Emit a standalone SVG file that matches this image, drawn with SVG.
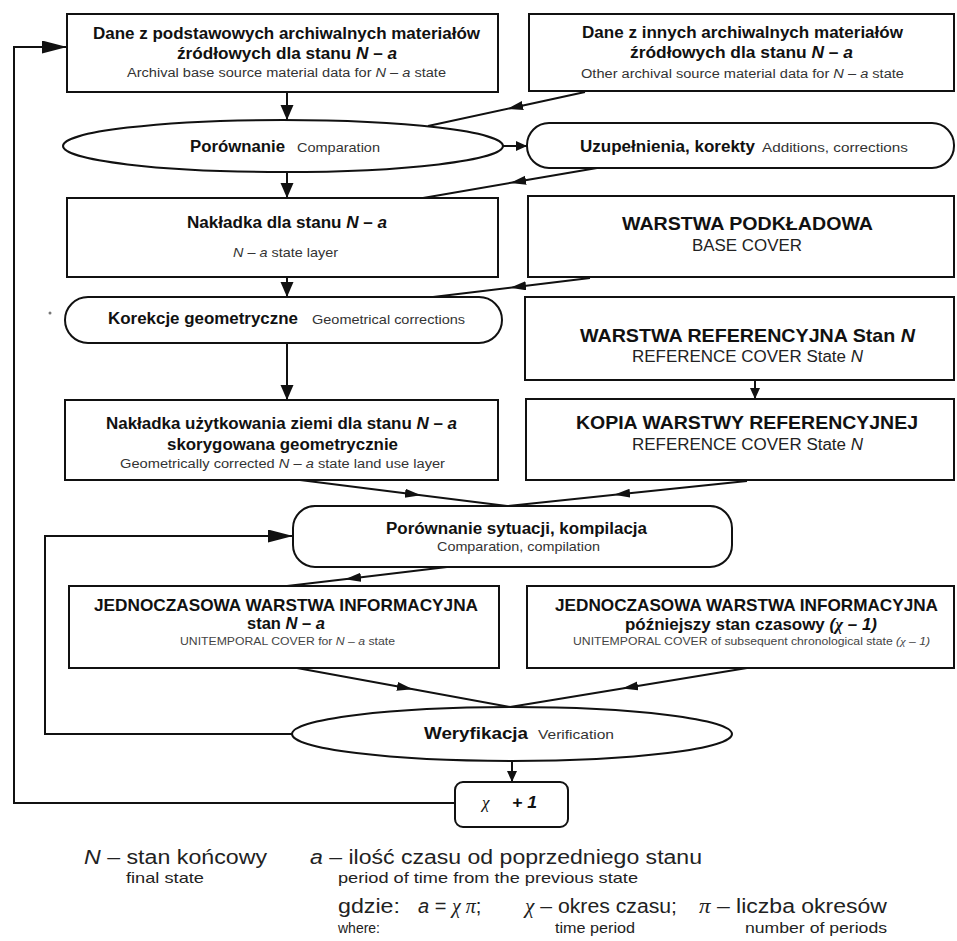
<svg xmlns="http://www.w3.org/2000/svg" width="957" height="941" viewBox="0 0 957 941">
<style>
.box{fill:#fff;stroke:#111;stroke-width:2}
.ln{fill:none;stroke:#111;stroke-width:2}
text{font-family:"Liberation Sans",Arial,sans-serif;fill:#111}
.b16{font-weight:bold;font-size:16px}
.b17{font-weight:bold;font-size:17px}
.c19{font-weight:bold;font-size:19px}
.r16{font-size:16px;fill:#222}
.s13{font-size:13px;fill:#333}
.s12{font-size:12px;fill:#333}
.s10{font-size:10px;fill:#444}
.lg{font-size:20px;fill:#222}
.lgs{font-size:15px;fill:#222}
.i{font-style:italic}
.sym{font-family:"Liberation Serif","DejaVu Serif",serif;font-style:italic}
</style>
<defs>
<marker id="ah" markerUnits="userSpaceOnUse" markerWidth="16" markerHeight="14" refX="15" refY="6.5" orient="auto"><path d="M0,0 L15,6.5 L0,13 z" fill="#111"/></marker>
<marker id="ahs" markerUnits="userSpaceOnUse" markerWidth="12" markerHeight="11" refX="11" refY="5" orient="auto"><path d="M0,0 L11,5 L0,10 z" fill="#111"/></marker>
<marker id="ahl" markerUnits="userSpaceOnUse" markerWidth="26" markerHeight="14" refX="25" refY="6.5" orient="auto"><path d="M0,0 L25,6.5 L0,13 z" fill="#111"/></marker>
<marker id="ahm" markerUnits="userSpaceOnUse" markerWidth="17" markerHeight="10" refX="8" refY="4.5" orient="auto"><path d="M0,0 L16,4.5 L0,9 z" fill="#111"/></marker>
</defs>
<rect width="957" height="941" fill="#fff"/>

<g id="connectors">
<path class="ln" d="M287,92 V120" marker-end="url(#ah)"/>
<path class="ln" d="M585,92 L515,107.2 L428,126" marker-mid="url(#ahm)"/>
<path class="ln" d="M503,146 H527" marker-end="url(#ahs)"/>
<path class="ln" d="M287,172 V198" marker-end="url(#ah)"/>
<path class="ln" d="M597,168 L518,181.6 L423,198" marker-mid="url(#ahm)"/>
<path class="ln" d="M287,277 V297" marker-end="url(#ah)"/>
<path class="ln" d="M590,278 L518,286.7 L433,297" marker-mid="url(#ahm)"/>
<path class="ln" d="M287,343 V400" marker-end="url(#ah)"/>
<path class="ln" d="M755,380 V399" marker-end="url(#ahs)"/>
<path class="ln" d="M300,480 L413,494.2 L507,506" marker-mid="url(#ahm)"/>
<path class="ln" d="M747,481 L622,494 L507,506" marker-mid="url(#ahm)"/>
<path class="ln" d="M447,567 L353,578.2 L287,586" marker-mid="url(#ahm)"/>
<path class="ln" d="M292,734 H45 V536 H293" marker-end="url(#ahl)"/>
<path class="ln" d="M297,668 L405,687.8 L510,707" marker-mid="url(#ahm)"/>
<path class="ln" d="M747,668 L630,687.3 L510,707" marker-mid="url(#ahm)"/>
<path class="ln" d="M512,761 V782" marker-end="url(#ahs)"/>
<path class="ln" d="M455,803 H14 V47 H67" marker-end="url(#ahl)"/>
</g>

<g id="n1">
<rect class="box" x="67" y="14" width="431" height="78"/>
<text class="b16" x="93" y="39" textLength="387" lengthAdjust="spacingAndGlyphs">Dane z podstawowych archiwalnych materiałów</text>
<text class="b16" x="177" y="59" textLength="220" lengthAdjust="spacingAndGlyphs">źródłowych dla stanu <tspan class="i">N</tspan> – <tspan class="i">a</tspan></text>
<text class="s12" x="127" y="77" textLength="319" lengthAdjust="spacingAndGlyphs">Archival base source material data for <tspan class="i">N</tspan> – <tspan class="i">a</tspan> state</text>
</g>

<g id="n2">
<rect class="box" x="529" y="14" width="425" height="77"/>
<text class="b16" x="582" y="38" textLength="321" lengthAdjust="spacingAndGlyphs">Dane z innych archiwalnych materiałów</text>
<text class="b16" x="630" y="58" textLength="223" lengthAdjust="spacingAndGlyphs">źródłowych dla stanu  <tspan class="i">N</tspan> – <tspan class="i">a</tspan></text>
<text class="s12" x="581" y="78" textLength="323" lengthAdjust="spacingAndGlyphs">Other archival source material data for <tspan class="i">N</tspan> – <tspan class="i">a</tspan> state</text>
</g>

<g id="n3">
<ellipse class="box" cx="283" cy="146" rx="220" ry="26"/>
<text class="b16" x="190" y="152" textLength="95" lengthAdjust="spacingAndGlyphs">Porównanie</text>
<text class="s13" x="297" y="152" textLength="83" lengthAdjust="spacingAndGlyphs">Comparation</text>
</g>

<g id="n4">
<rect class="box" x="527" y="123" width="427" height="45" rx="22"/>
<text class="b16" x="580" y="152" textLength="175" lengthAdjust="spacingAndGlyphs">Uzupełnienia, korekty</text>
<text class="s12" x="762" y="152" textLength="146" lengthAdjust="spacingAndGlyphs">Additions, corrections</text>
</g>

<g id="n5">
<rect class="box" x="67" y="198" width="431" height="79"/>
<text class="b16" x="187" y="228" textLength="200" lengthAdjust="spacingAndGlyphs">Nakładka dla stanu <tspan class="i">N</tspan> – <tspan class="i">a</tspan></text>
<text class="s13" x="233" y="257" textLength="105" lengthAdjust="spacingAndGlyphs"><tspan class="i">N</tspan> – <tspan class="i">a</tspan> state layer</text>
</g>

<g id="n6">
<rect class="box" x="528" y="196" width="426" height="81"/>
<text class="c19" x="622" y="230" textLength="251" lengthAdjust="spacingAndGlyphs">WARSTWA PODKŁADOWA</text>
<text class="r16" x="692" y="251" textLength="110" lengthAdjust="spacingAndGlyphs">BASE COVER</text>
</g>

<g id="n7">
<rect class="box" x="65" y="297" width="437" height="46" rx="23"/>
<text class="b16" x="108" y="324" textLength="190" lengthAdjust="spacingAndGlyphs">Korekcje geometryczne</text>
<text class="s13" x="312" y="324" textLength="153" lengthAdjust="spacingAndGlyphs">Geometrical corrections</text>
</g>
<circle cx="50" cy="313" r="1.5" fill="#777"/>

<g id="n8">
<rect class="box" x="525" y="297" width="429" height="83"/>
<text class="c19" x="580" y="342" textLength="335" lengthAdjust="spacingAndGlyphs">WARSTWA REFERENCYJNA Stan <tspan class="i">N</tspan></text>
<text class="r16" x="632" y="362" textLength="231" lengthAdjust="spacingAndGlyphs">REFERENCE COVER State <tspan class="i">N</tspan></text>
</g>

<g id="n9">
<rect class="box" x="65" y="400" width="433" height="80"/>
<text class="b16" x="106" y="429" textLength="351" lengthAdjust="spacingAndGlyphs">Nakładka użytkowania ziemi dla stanu <tspan class="i">N</tspan> – <tspan class="i">a</tspan></text>
<text class="b16" x="167" y="450" textLength="231" lengthAdjust="spacingAndGlyphs">skorygowana geometrycznie</text>
<text class="s12" x="120" y="468" textLength="325" lengthAdjust="spacingAndGlyphs">Geometrically corrected <tspan class="i">N</tspan> – <tspan class="i">a</tspan> state land use layer</text>
</g>

<g id="n10">
<rect class="box" x="526" y="399" width="428" height="81"/>
<text class="c19" x="576" y="429" textLength="342" lengthAdjust="spacingAndGlyphs">KOPIA WARSTWY REFERENCYJNEJ</text>
<text class="r16" x="632" y="450" textLength="231" lengthAdjust="spacingAndGlyphs">REFERENCE COVER State <tspan class="i">N</tspan></text>
</g>

<g id="n11">
<rect class="box" x="293" y="506" width="439" height="61" rx="22"/>
<text class="b16" x="386" y="534" textLength="261" lengthAdjust="spacingAndGlyphs">Porównanie sytuacji, kompilacja</text>
<text class="s13" x="437" y="551" textLength="163" lengthAdjust="spacingAndGlyphs">Comparation, compilation</text>
</g>

<g id="n12">
<rect class="box" x="69" y="586" width="430" height="82"/>
<text class="b17" x="94" y="611" textLength="384" lengthAdjust="spacingAndGlyphs">JEDNOCZASOWA WARSTWA INFORMACYJNA</text>
<text class="b17" x="247" y="629" textLength="78" lengthAdjust="spacingAndGlyphs">stan <tspan class="i">N</tspan> – <tspan class="i">a</tspan></text>
<text class="s10" x="180" y="645" textLength="215" lengthAdjust="spacingAndGlyphs">UNITEMPORAL COVER for <tspan class="i">N</tspan> – <tspan class="i">a</tspan> state</text>
</g>

<g id="n13">
<rect class="box" x="527" y="586" width="427" height="82"/>
<text class="b17" x="555" y="611" textLength="383" lengthAdjust="spacingAndGlyphs">JEDNOCZASOWA WARSTWA INFORMACYJNA</text>
<text class="b17" x="625" y="630" textLength="252" lengthAdjust="spacingAndGlyphs">późniejszy stan czasowy <tspan class="i">(</tspan><tspan class="sym">χ</tspan><tspan class="i"> – 1)</tspan></text>
<text class="s10" x="573" y="645" textLength="357" lengthAdjust="spacingAndGlyphs">UNITEMPORAL COVER of subsequent chronological state <tspan class="i">(</tspan><tspan class="sym">χ</tspan><tspan class="i"> – 1)</tspan></text>
</g>

<g id="n14">
<ellipse class="box" cx="512" cy="734" rx="220" ry="27"/>
<text class="b16" x="424" y="739" textLength="104" lengthAdjust="spacingAndGlyphs">Weryfikacja</text>
<text class="s13" x="538" y="739" textLength="76" lengthAdjust="spacingAndGlyphs">Verification</text>
</g>

<g id="n15">
<rect class="box" x="455" y="782" width="113" height="45" rx="8"/>
<text class="sym" x="482" y="808" style="font-size:17px">χ</text>
<text class="i" x="512" y="808" style="font-size:17px;font-weight:bold" textLength="25" lengthAdjust="spacingAndGlyphs">+ 1</text>
</g>

<g id="legend">
<text class="lg" x="84" y="864" textLength="183" lengthAdjust="spacingAndGlyphs"><tspan class="i">N</tspan> – stan końcowy</text>
<text class="lg" x="310" y="864" textLength="392" lengthAdjust="spacingAndGlyphs"><tspan class="i">a</tspan> – ilość czasu od poprzedniego stanu</text>
<text class="lgs" x="126" y="883" textLength="78" lengthAdjust="spacingAndGlyphs">final state</text>
<text class="lgs" x="338" y="883" textLength="300" lengthAdjust="spacingAndGlyphs">period of time from the previous state</text>
<text class="lg" x="338" y="913" textLength="62" lengthAdjust="spacingAndGlyphs">gdzie:</text>
<text class="lg" x="418" y="913"><tspan class="i">a</tspan> = <tspan class="sym">χ π</tspan>;</text>
<text class="lg" x="525" y="913" textLength="152" lengthAdjust="spacingAndGlyphs"><tspan class="sym">χ</tspan> – okres czasu;</text>
<text class="lg" x="699" y="913" textLength="188" lengthAdjust="spacingAndGlyphs"><tspan class="sym">π</tspan> – liczba okresów</text>
<text class="lgs" x="338" y="933" textLength="42" lengthAdjust="spacingAndGlyphs">where:</text>
<text class="lgs" x="555" y="933" textLength="80" lengthAdjust="spacingAndGlyphs">time period</text>
<text class="lgs" x="745" y="933" textLength="142" lengthAdjust="spacingAndGlyphs">number of periods</text>
</g>
</svg>
